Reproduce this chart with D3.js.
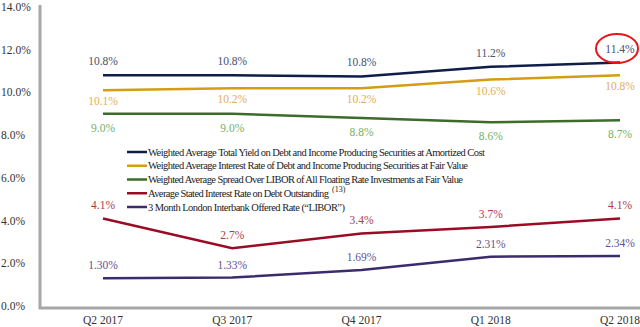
<!DOCTYPE html>
<html>
<head>
<meta charset="utf-8">
<script src="https://cdn.jsdelivr.net/npm/d3@7"></script>
<style>
body { margin: 0; background: #fff; }
text { font-family: "Liberation Serif", "DejaVu Serif", serif; }
</style>
</head>
<body>
<div id="chart"></div>
<script>
var quarters = ["Q2 2017", "Q3 2017", "Q4 2017", "Q1 2018", "Q2 2018"];
var yTicks = [0, 2, 4, 6, 8, 10, 12, 14];

var totalYield = [10.8, 10.8, 10.75, 11.2, 11.4];
var totalYieldLabels = ["10.8%", "10.8%", "10.8%", "11.2%", "11.4%"];
var interestRate = [10.1, 10.2, 10.2, 10.6, 10.8];
var interestRateLabels = ["10.1%", "10.2%", "10.2%", "10.6%", "10.8%"];
var spread = [9.0, 9.0, 8.8, 8.6, 8.7];
var spreadLabels = ["9.0%", "9.0%", "8.8%", "8.6%", "8.7%"];
var debtRate = [4.1, 2.7, 3.4, 3.7, 4.1];
var debtRateLabels = ["4.1%", "2.7%", "3.4%", "3.7%", "4.1%"];
var libor = [1.30, 1.33, 1.69, 2.31, 2.34];
var liborLabels = ["1.30%", "1.33%", "1.69%", "2.31%", "2.34%"];

var legendNames = [
    "Weighted Average Total Yield on Debt and Income Producing Securities at Amortized Cost",
    "Weighted Average Interest Rate of Debt and Income Producing Securities at Fair Value",
    "Weighted Average Spread Over LIBOR of All Floating Rate Investments at Fair Value",
    "Average Stated Interest Rate on Debt Outstanding",
    "3 Month London Interbank Offered Rate (\u201CLIBOR\u201D)"
];

var series = [
    { values: totalYield, labels: totalYieldLabels, color: "#0f1d4a", labelColor: "#46526f", dy: -10 },
    { values: interestRate, labels: interestRateLabels, color: "#d49d12", labelColor: "#dfae55", dy: 15 },
    { values: spread, labels: spreadLabels, color: "#3d6b2c", labelColor: "#74b064", dy: 18 },
    { values: debtRate, labels: debtRateLabels, color: "#9a0c26", labelColor: "#ad3a4d", dy: -9 },
    { values: libor, labels: liborLabels, color: "#3c2c6e", labelColor: "#5f5292", dy: -9 }
];

// rendered widths of the legend lines (the original font is a wide Palatino)
var legendTextWidths = [337, 320, 315, 181, 197];

var width = 640, height = 327;

var svg = d3.select("#chart")
    .append("svg")
    .attr("width", width)
    .attr("height", height);

var xScale = d3.scalePoint()
    .domain(quarters)
    .range([103, 620]);

var yScale = d3.scaleLinear()
    .domain([0, 14])
    .range([306, 7]);

// y tick labels
svg.selectAll(".ytick")
    .data(yTicks)
    .enter()
    .append("text")
    .attr("x", 1)
    .attr("y", d => yScale(d) + 4)
    .style("font-size", "11.5px")
    .style("fill", "#333")
    .text(d => d.toFixed(1) + "%");

// x tick labels
svg.selectAll(".xtick")
    .data(quarters)
    .enter()
    .append("text")
    .attr("x", d => xScale(d))
    .attr("y", 324)
    .attr("text-anchor", "middle")
    .style("font-size", "11.5px")
    .style("fill", "#333")
    .text(d => d);

// axes lines
svg.append("line")
    .attr("x1", 40).attr("x2", 40)
    .attr("y1", 5).attr("y2", 309)
    .attr("stroke", "#a6a6a6")
    .attr("stroke-width", 3);

svg.append("line")
    .attr("x1", 39).attr("x2", 640)
    .attr("y1", 308).attr("y2", 308)
    .attr("stroke", "#a6a6a6")
    .attr("stroke-width", 3);

var line = d3.line()
    .x((d, i) => xScale(quarters[i]))
    .y(d => yScale(d));

series.forEach(function (s) {
    svg.append("path")
        .attr("fill", "none")
        .attr("stroke", s.color)
        .attr("stroke-width", 2.5)
        .attr("d", line(s.values));

    svg.selectAll(null)
        .data(s.values)
        .enter()
        .append("text")
        .attr("x", (d, i) => xScale(quarters[i]))
        .attr("y", d => yScale(d) + s.dy)
        .attr("text-anchor", "middle")
        .style("font-size", "11.5px")
        .style("fill", s.labelColor)
        .text((d, i) => s.labels[i]);
});

// highlight circle round the last value
var last = quarters.length - 1;
svg.append("ellipse")
    .attr("cx", xScale(quarters[last]) - 3)
    .attr("cy", yScale(totalYield[last]) - 14)
    .attr("rx", 21)
    .attr("ry", 14.5)
    .attr("fill", "none")
    .attr("stroke", "#e8141b")
    .attr("stroke-width", 2);

// legend
var legend = svg.selectAll(".legend")
    .data(series)
    .enter()
    .append("g")
    .attr("transform", (d, i) => `translate(127, ${152 + i * 13.75})`);

legend.append("line")
    .attr("x1", 0).attr("x2", 20)
    .attr("y1", 0).attr("y2", 0)
    .attr("stroke", d => d.color)
    .attr("stroke-width", 2.5);

legend.append("text")
    .attr("x", 21)
    .attr("y", 3.5)
    .attr("textLength", (d, i) => legendTextWidths[i])
    .attr("lengthAdjust", "spacing")
    .style("font-size", "10.5px")
    .style("fill", "#222")
    .text((d, i) => legendNames[i]);

// footnote marker after the fourth legend entry
svg.append("text")
    .attr("x", 127 + 21 + legendTextWidths[3] + 3)
    .attr("y", 152 + 3 * 13.75 - 1.5)
    .style("font-size", "8px")
    .style("fill", "#222")
    .text("(13)");
</script>
</body>
</html>
